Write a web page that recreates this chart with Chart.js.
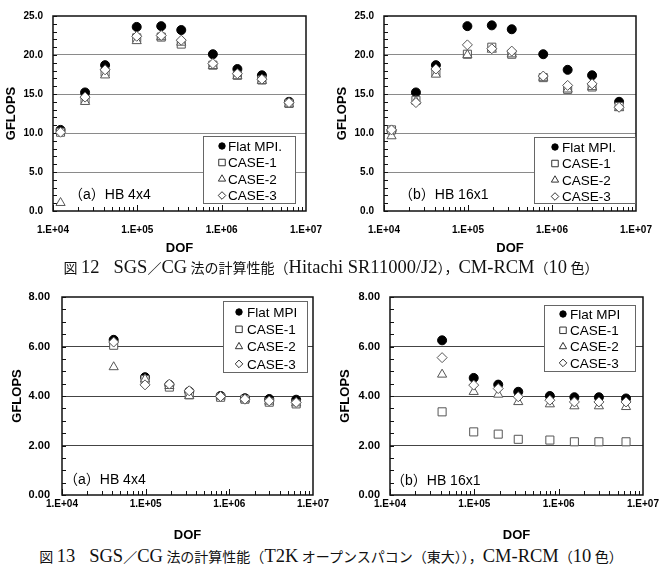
<!DOCTYPE html>
<html>
<head>
<meta charset="utf-8">
<script src="https://cdn.jsdelivr.net/npm/chart.js@4.4.1/dist/chart.umd.min.js"></script>
<style>
  body { margin: 0; background: #fff; width: 662px; height: 568px; position: relative; overflow: hidden; }
  canvas { position: absolute; }
  .cap { position: absolute; left: 0; width: 662px; text-align: center; white-space: nowrap;
         font-family: "Liberation Serif", "Noto Sans CJK JP", serif; font-size: 14px; line-height: 20px; color: #111; }
  .cap span { font-size: 18.5px; }
</style>
</head>
<body>
<canvas id="c1" width="331" height="258" style="left:0;top:0"></canvas>
<canvas id="c2" width="331" height="258" style="left:331px;top:0"></canvas>
<canvas id="c3" width="331" height="268" style="left:0;top:276px"></canvas>
<canvas id="c4" width="331" height="268" style="left:331px;top:276px"></canvas>
<div class="cap" style="top:257px">図 <span>12</span>　<span>SGS</span>／<span>CG</span> 法の計算性能（<span>Hitachi SR11000/J2</span>），<span>CM-RCM</span>（<span>10</span> 色）</div>
<div class="cap" style="top:546px">図 <span>13</span>　<span>SGS</span>／<span>CG</span> 法の計算性能（<span>T2K</span> オープンスパコン（東大）），<span>CM-RCM</span>（<span>10</span> 色）</div>
<script>
// DOF values (x) and GFLOPS values (y)
var dofSR = [12288, 24000, 41472, 98304, 192000, 331776, 786432, 1536000, 3000000, 6291456];
var dofT2K = [41472, 98304, 192000, 331776, 786432, 1536000, 3000000, 6291456];

var seriesSR = ["Flat MPI.", "CASE-1", "CASE-2", "CASE-3"];
var seriesT2K = ["Flat MPI", "CASE-1", "CASE-2", "CASE-3"];

var srHB4x4Flat  = [10.4, 15.2, 18.7, 23.6, 23.7, 23.2, 20.1, 18.2, 17.4, 14.0];
var srHB4x4Case1 = [10.1, 14.3, 17.8, 22.2, 22.3, 21.4, 18.7, 17.4, 16.8, 13.8];
var srHB4x4Case2 = [1.05, 14.0, 17.4, 21.8, 22.3, 21.6, 18.6, 17.3, 16.7, 13.7];
var srHB4x4Case3 = [10.1, 14.6, 18.1, 22.4, 22.5, 21.9, 18.9, 17.6, 16.9, 13.9];

var srHB16x1Flat  = [10.3, 15.2, 18.7, 23.7, 23.8, 23.3, 20.1, 18.1, 17.4, 14.0];
var srHB16x1Case1 = [10.4, 14.2, 17.8, 20.1, 21.0, 20.1, 17.1, 15.6, 15.9, 13.4];
var srHB16x1Case2 = [9.6, 14.1, 17.5, 20.0, 20.7, 20.1, 17.1, 15.6, 15.9, 13.2];
var srHB16x1Case3 = [10.4, 13.9, 18.2, 21.3, 20.8, 20.5, 17.3, 16.1, 16.3, 13.3];

var t2kHB4x4Flat  = [6.27, 4.76, 4.45, 4.18, 4.00, 3.91, 3.88, 3.85];
var t2kHB4x4Case1 = [6.05, 4.66, 4.36, 4.05, 3.95, 3.87, 3.75, 3.68];
var t2kHB4x4Case2 = [5.17, 4.68, 4.41, 4.00, 3.98, 3.87, 3.78, 3.71];
var t2kHB4x4Case3 = [6.18, 4.45, 4.48, 4.21, 3.98, 3.87, 3.80, 3.74];

var t2kHB16x1Flat  = [6.25, 4.73, 4.46, 4.17, 4.00, 3.95, 3.95, 3.90];
var t2kHB16x1Case1 = [3.36, 2.55, 2.46, 2.25, 2.22, 2.15, 2.15, 2.15];
var t2kHB16x1Case2 = [4.87, 4.17, 4.06, 3.76, 3.67, 3.59, 3.59, 3.56];
var t2kHB16x1Case3 = [5.55, 4.44, 4.30, 3.97, 3.83, 3.76, 3.76, 3.76];

Chart.defaults.font.family = '"Liberation Sans", Arial, sans-serif';
Chart.defaults.color = '#000';

// data markers; legend uses the smaller "lr" radius (glyph-like symbols)
var markers = [
  { pointStyle: 'circle',   pointRadius: 4.5, lr: 3.2, backgroundColor: '#000', borderColor: '#000', order: 4 },
  { pointStyle: 'rect',     pointRadius: 5.7, lr: 4.6, backgroundColor: '#fff', borderColor: '#555', order: 3 },
  { pointStyle: 'triangle', pointRadius: 5.3, lr: 4.2, backgroundColor: '#fff', borderColor: '#555', order: 2 },
  { pointStyle: 'rectRot',  pointRadius: 5,   lr: 3.8, backgroundColor: '#fff', borderColor: '#555', order: 1 }
];

function buildSets(dof, labels, lists) {
  return lists.map(function (vals, i) {
    var m = markers[i];
    return {
      label: labels[i],
      data: vals.map(function (v, j) { return { x: dof[j], y: v }; }),
      showLine: false,
      pointStyle: m.pointStyle,
      pointRadius: m.pointRadius,
      pointHoverRadius: m.pointRadius,
      pointBackgroundColor: m.backgroundColor,
      pointBorderColor: m.borderColor,
      pointBorderWidth: 1,
      order: m.order
    };
  });
}

// axis frame, inside minor ticks
var framePlugin = {
  id: 'frame',
  beforeDatasetsDraw: function (chart, args, opts) {
    var a = chart.chartArea, ctx = chart.ctx, xs = chart.scales.x, ys = chart.scales.y;
    ctx.save();
    ctx.strokeStyle = '#111';
    ctx.lineWidth = 1;
    for (var v = ys.min; v <= ys.max + 1e-9; v += opts.yMinor) {
      var py = Math.round(ys.getPixelForValue(v)) + 0.5;
      ctx.beginPath(); ctx.moveTo(a.left, py); ctx.lineTo(a.left + 4, py); ctx.stroke();
    }
    var e0 = Math.round(Math.log10(xs.min)), e1 = Math.round(Math.log10(xs.max));
    for (var e = e0; e < e1; e++) {
      for (var k = 1; k < 10; k++) {
        var px = Math.round(xs.getPixelForValue(k * Math.pow(10, e))) + 0.5;
        ctx.beginPath(); ctx.moveTo(px, a.bottom); ctx.lineTo(px, a.bottom - (k === 1 ? 6 : 4)); ctx.stroke();
      }
    }
    ctx.lineWidth = 1.5;
    ctx.strokeRect(a.left, a.top, a.right - a.left, a.bottom - a.top);
    ctx.restore();
  }
};

// legend box inside the plot plus panel label
var boxPlugin = {
  id: 'box',
  afterDatasetsDraw: function (chart, args, opts) {
    var a = chart.chartArea, ctx = chart.ctx, L = opts.legend;
    var bx = a.right - L.right - L.width;
    var by = L.top != null ? a.top + L.top : a.bottom - L.bottom - L.height;
    ctx.save();
    ctx.fillStyle = '#fff';
    ctx.fillRect(bx, by, L.width, L.height);
    ctx.strokeStyle = '#666';
    ctx.lineWidth = 1;
    ctx.strokeRect(Math.round(bx) + 0.5, Math.round(by) + 0.5, L.width, L.height);
    ctx.font = '13.5px "Liberation Sans", Arial, sans-serif';
    ctx.textBaseline = 'middle';
    ctx.textAlign = 'left';
    chart.data.datasets.forEach(function (ds, i) {
      var ry = by + L.row0 + i * L.step;
      ctx.fillStyle = ds.pointBackgroundColor;
      ctx.strokeStyle = i === 0 ? '#000' : '#333';
      ctx.lineWidth = 1;
      Chart.helpers.drawPoint(ctx, { pointStyle: ds.pointStyle, radius: markers[i].lr, rotation: 0, borderWidth: 1 }, bx + L.mx, ry);
      ctx.fillStyle = '#000';
      ctx.fillText(ds.label, bx + L.tx, ry + 1);
    });
    ctx.font = '14px "Liberation Sans", "Noto Sans CJK JP", sans-serif';
    ctx.fillStyle = '#000';
    ctx.fillText(opts.label.text, a.left + opts.label.dx, a.bottom - opts.label.dy);
    ctx.restore();
  }
};

function decadeLabel(v) {
  var e = Math.log10(v);
  if (Math.abs(e - Math.round(e)) > 1e-6) return '';
  return '1.E+' + ('0' + Math.round(e)).slice(-2);
}

function makeChart(id, dof, labels, lists, cfg) {
  new Chart(document.getElementById(id), {
    type: 'scatter',
    data: { datasets: buildSets(dof, labels, lists) },
    plugins: [framePlugin, boxPlugin],
    options: {
      responsive: false,
      animation: false,
      events: [],
      layout: { padding: { left: 0, top: cfg.padTop, right: cfg.padRight, bottom: 0 } },
      plugins: {
        legend: { display: false },
        tooltip: { enabled: false },
        frame: { yMinor: cfg.yMinor },
        box: { legend: cfg.legend, label: cfg.label }
      },
      scales: {
        x: {
          type: 'logarithmic',
          min: 1e4, max: 1e7,
          grid: { display: false },
          border: { display: false },
          ticks: { autoSkip: false, maxRotation: 0, padding: cfg.xTickPad,
                   font: { size: cfg.xFont, weight: 'bold' }, callback: decadeLabel },
          title: { display: true, text: 'DOF', font: { size: 13, weight: 'bold' },
                   padding: { top: 0, bottom: cfg.xTitlePad } },
          afterFit: function (s) { s.height = cfg.xHeight; }
        },
        y: {
          min: 0, max: cfg.yMax,
          grid: {
            drawTicks: false,
            color: function (c) { return (c.tick && c.tick.value > 0 && c.tick.value < cfg.yMax) ? cfg.gridColor : 'rgba(0,0,0,0)'; }
          },
          border: { display: false },
          ticks: { stepSize: cfg.yStep, autoSkip: false, padding: cfg.yTickPad,
                   font: { size: cfg.yFont, weight: 'bold' },
                   callback: function (v) { return Number(v).toFixed(cfg.yDec); } },
          title: { display: true, text: 'GFLOPS', font: { size: 13, weight: 'bold' },
                   padding: { top: cfg.yTitlePad, bottom: 0 } },
          afterFit: function (s) { s.width = cfg.yWidth; }
        }
      }
    }
  });
}

var topCfg = { padTop: 13, xHeight: 47, xTickPad: 5, xFont: 10, xTitlePad: 2,
               yMax: 25, yStep: 5, yMinor: 1, yDec: 1, yFont: 10, yTickPad: 10, yTitlePad: 4,
               gridColor: '#8a8a8a' };

makeChart('c1', dofSR, seriesSR, [srHB4x4Flat, srHB4x4Case1, srHB4x4Case2, srHB4x4Case3],
  Object.assign({}, topCfg, { padRight: 25, yWidth: 53,
    legend: { right: 11, bottom: 8, width: 92, height: 67, row0: 10, step: 16.5, mx: 19, tx: 25 },
    label: { text: '（a）HB 4x4', dx: 16, dy: 16 } }));

makeChart('c2', dofSR, seriesSR, [srHB16x1Flat, srHB16x1Case1, srHB16x1Case2, srHB16x1Case3],
  Object.assign({}, topCfg, { padRight: 26, yWidth: 53,
    legend: { right: 1, bottom: 8, width: 101, height: 66, row0: 10, step: 16.5, mx: 21, tx: 28 },
    label: { text: '（b）HB 16x1', dx: 15, dy: 16 } }));

var botCfg = { padTop: 21, xHeight: 49, xTickPad: -5, xFont: 10, xTitlePad: 1,
               yMax: 8, yStep: 2, yMinor: 0.5, yDec: 2, yFont: 11,
               gridColor: '#444' };

makeChart('c3', dofT2K, seriesT2K, [t2kHB4x4Flat, t2kHB4x4Case1, t2kHB4x4Case2, t2kHB4x4Case3],
  Object.assign({}, botCfg, { padRight: 18, yWidth: 62, yTickPad: 12, yTitlePad: 10,
    legend: { right: 6, top: 4, width: 84, height: 71, row0: 11, step: 17.3, mx: 16, tx: 24 },
    label: { text: '（a）HB 4x4', dx: 2, dy: 15 } }));

makeChart('c4', dofT2K, seriesT2K, [t2kHB16x1Flat, t2kHB16x1Case1, t2kHB16x1Case2, t2kHB16x1Case3],
  Object.assign({}, botCfg, { padRight: 19, yWidth: 59, yTickPad: 10, yTitlePad: 7,
    legend: { right: 8, top: 8, width: 91, height: 66, row0: 9, step: 16.3, mx: 19, tx: 26 },
    label: { text: '（b）HB 16x1', dx: 1, dy: 14 } }));
</script>
</body>
</html>
